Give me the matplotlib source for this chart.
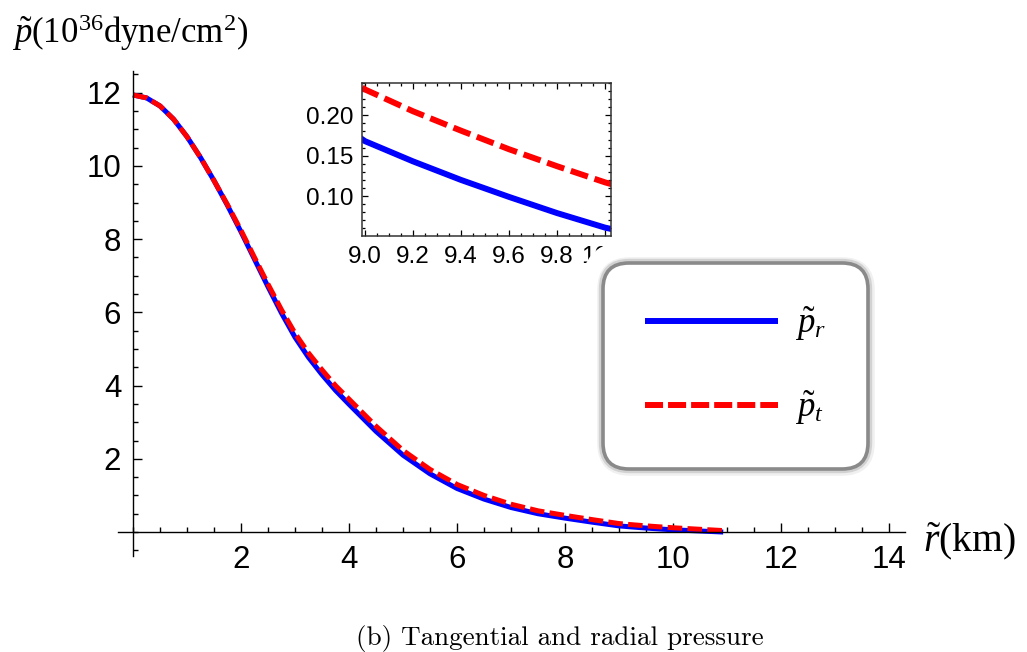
import matplotlib
matplotlib.use('Agg')
import matplotlib.pyplot as plt
import matplotlib.patheffects as pe
from matplotlib.lines import Line2D
from matplotlib.ticker import FixedLocator, MultipleLocator, FormatStrFormatter

# values
r_km = [0.0, 0.25, 0.5, 0.75, 1.0, 1.25, 1.5, 1.75, 2.0, 2.25, 2.5, 2.75, 3.0,
        3.25, 3.5, 3.75, 4.0, 4.5, 5.0, 5.5, 6.0, 6.5, 7.0, 7.5, 8.0, 8.5,
        9.0, 9.2, 9.4, 9.6, 9.8, 10.0, 10.5, 10.93]
p_r = [11.94, 11.86, 11.64, 11.28, 10.80, 10.23, 9.60, 8.92, 8.20, 7.45, 6.70, 5.98, 5.32,
       4.77, 4.30, 3.87, 3.49, 2.75, 2.10, 1.59, 1.19, 0.90, 0.67, 0.50, 0.38, 0.27,
       0.168, 0.143, 0.120, 0.099, 0.079, 0.061, 0.028, 0.0]
p_t = [11.94, 11.86, 11.64, 11.28, 10.80, 10.23, 9.60, 8.94, 8.24, 7.50, 6.77, 6.07, 5.43,
       4.89, 4.43, 4.00, 3.63, 2.89, 2.23, 1.71, 1.30, 1.00, 0.76, 0.58, 0.455, 0.34,
       0.232, 0.205, 0.181, 0.158, 0.137, 0.117, 0.075, 0.04]

main_xticks = [2, 4, 6, 8, 10, 12, 14]
main_yticks = [2, 4, 6, 8, 10, 12]
inset_xticks = [9.0, 9.2, 9.4, 9.6, 9.8, 10.0]
inset_yticks = [0.10, 0.15, 0.20]

legend_labels = [r'$\tilde{p}_r$', r'$\tilde{p}_t$']
caption = '(b) Tangential and radial pressure'

BLUE = '#0000ff'
RED = '#ff0000'

plt.rcParams['font.family'] = ['Liberation Sans', 'DejaVu Sans']
plt.rcParams['mathtext.fontset'] = 'custom'
plt.rcParams['mathtext.rm'] = 'Liberation Serif'
plt.rcParams['mathtext.it'] = 'Liberation Serif:italic'
plt.rcParams['lines.scale_dashes'] = False

fig = plt.figure(figsize=(10.27, 6.52), dpi=100)

# main axes, spines crossing at the origin
ax = fig.add_axes([0.1148, 0.1475, 0.7666, 0.7439])
ax.plot(r_km, p_r, color=BLUE, lw=3.6, solid_capstyle='butt')
ax.plot(r_km, p_t, color=RED, lw=3.6, dashes=(10.5, 3.8), dash_capstyle='butt')
ax.set_xlim(-0.28, 14.3)
ax.set_ylim(-0.65, 12.6)
for side in ['top', 'right']:
    ax.spines[side].set_visible(False)
ax.spines['left'].set_position(('data', 0))
ax.spines['bottom'].set_position(('data', 0))
for side in ['left', 'bottom']:
    ax.spines[side].set_linewidth(1.0)
ax.xaxis.set_major_locator(FixedLocator(main_xticks))
ax.yaxis.set_major_locator(FixedLocator(main_yticks))
ax.xaxis.set_minor_locator(MultipleLocator(0.5))
ax.yaxis.set_minor_locator(MultipleLocator(0.5))
ax.tick_params(which='both', direction='in', width=1.0)
ax.tick_params(which='major', length=6.5, labelsize=22.5)
ax.tick_params(which='minor', length=3.5)
ax.tick_params(axis='y', which='major', pad=8.5)
ax.tick_params(axis='x', which='major', pad=9)

fig.text(0.012, 0.934, r'$\tilde{p}$(10$^{36}$dyne/cm$^{2}$)',
         fontsize=25, family='Liberation Serif', ha='left', va='baseline')
fig.text(0.899, 0.153, r'$\tilde{r}$(km)',
         fontsize=28.5, family='Liberation Serif', ha='left', va='baseline')

# inset zoom on 9..10 km
ins = fig.add_axes([0.3525, 0.638, 0.2425, 0.2347])
ins.plot(r_km, p_r, color=BLUE, lw=4.3, solid_capstyle='butt')
ins.plot(r_km, p_t, color=RED, lw=4.3, dashes=(13, 5), dash_capstyle='butt')
ins.set_xlim(8.9875, 10.025)
ins.set_ylim(0.0506, 0.240)
ins.xaxis.set_major_locator(FixedLocator(inset_xticks))
ins.yaxis.set_major_locator(FixedLocator(inset_yticks))
ins.xaxis.set_minor_locator(MultipleLocator(0.05))
ins.yaxis.set_minor_locator(MultipleLocator(0.01))
ins.xaxis.set_major_formatter(FormatStrFormatter('%.1f'))
ins.yaxis.set_major_formatter(FormatStrFormatter('%.2f'))
ins.tick_params(which='both', direction='in', top=True, right=True, width=0.9)
ins.tick_params(which='major', length=4, labelsize=17.5)
ins.tick_params(which='minor', length=2.2)
ins.tick_params(axis='y', pad=6)
ins.tick_params(axis='x', pad=7)
for s in ins.spines.values():
    s.set_linewidth(1.1)
    s.set_edgecolor('#333333')

# legend with rounded grey frame; its white margin hides part of the inset labels
handles = [Line2D([], [], color=BLUE, lw=4.3, solid_capstyle='butt'),
           Line2D([], [], color=RED, lw=4.3, dashes=(13, 3.6), dash_capstyle='butt')]
leg = fig.legend(handles, legend_labels, loc='center',
                 bbox_to_anchor=(0.7165, 0.4387), bbox_transform=fig.transFigure,
                 fontsize=25, handlelength=3.83, handletextpad=0.5,
                 labelspacing=1.3, borderpad=1.2, frameon=True, fancybox=True,
                 framealpha=1.0)
frame = leg.get_frame()
frame.set_boxstyle('round', pad=0, rounding_size=0.75)
frame.set_edgecolor('#8a8a8a')
frame.set_linewidth(2.6)
frame.set_path_effects([pe.Stroke(linewidth=34, foreground='white'),
                        pe.Stroke(linewidth=9, foreground='#f0f0f0'),
                        pe.Stroke(linewidth=6, foreground='#d2d2d2'),
                        pe.Normal()])

fig.text(0.545, 0.011, caption, fontsize=19.5, family='cmr10', ha='center', va='baseline')

fig.savefig('out.png', dpi=100)
